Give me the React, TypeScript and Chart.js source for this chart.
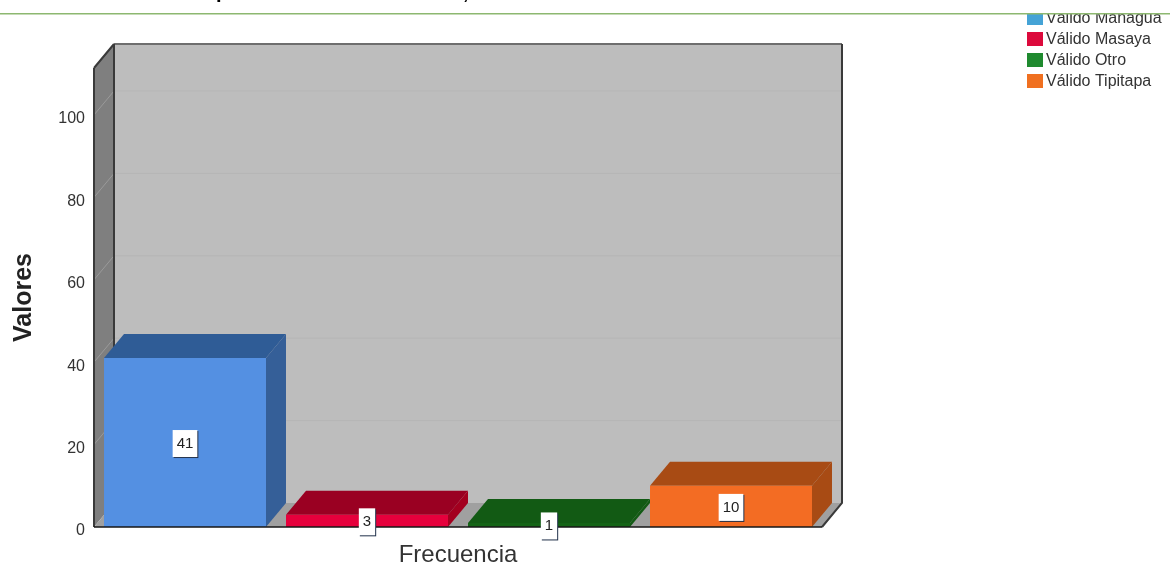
import React, { useEffect, useRef } from "react";
import { Chart, registerables } from "chart.js";

Chart.register(...registerables);

const categories = ["Frecuencia"];
const seriesNames = ["Válido Managua", "Válido Masaya", "Válido Otro", "Válido Tipitapa"];
const seriesValues = [41, 3, 1, 10];
const frontColors = ["#5490e2", "#e6003c", "#146416", "#f36c23"];
const topColors = ["#2f5c96", "#9a0022", "#125a14", "#a84b14"];
const sideColors = ["#355f98", "#a3001f", "#125a14", "#a84b14"];
const legendColors = ["#45a3d6", "#dc0a3c", "#1f8a2f", "#f07020"];
const tickStep = 20;
const axisMax = 111.4;

const FONT = '"Liberation Sans", Arial, sans-serif';
const DX = 20;
const DY = 24;

function poly(ctx: CanvasRenderingContext2D, pts: number[][], fill?: string, stroke?: string, lw = 1) {
  ctx.beginPath();
  pts.forEach(([x, y], i) => (i ? ctx.lineTo(x, y) : ctx.moveTo(x, y)));
  ctx.closePath();
  if (fill) {
    ctx.fillStyle = fill;
    ctx.fill();
  }
  if (stroke) {
    ctx.strokeStyle = stroke;
    ctx.lineWidth = lw;
    ctx.stroke();
  }
}

// Box walls, floor and the extruded faces of each bar.
const depthPlugin = {
  id: "depth",
  beforeDatasetsDraw(chart: any) {
    const { ctx, chartArea: a, scales } = chart;
    const { left, right, top, bottom } = a;
    ctx.save();
    poly(ctx, [[left + DX, top - DY], [right + DX, top - DY], [right + DX, bottom - DY], [left + DX, bottom - DY]], "#bdbdbd");
    poly(ctx, [[left, top], [left + DX, top - DY], [left + DX, bottom - DY], [left, bottom]], "#7f7f7f");
    poly(ctx, [[left, bottom], [left + DX, bottom - DY], [right + DX, bottom - DY], [right, bottom]], "#a0a0a0");

    for (const t of scales.y.ticks) {
      if (t.value === 0) continue;
      const y = scales.y.getPixelForValue(t.value);
      ctx.strokeStyle = "#b6b6b6";
      ctx.lineWidth = 1;
      ctx.beginPath();
      ctx.moveTo(left + DX, y - DY);
      ctx.lineTo(right + DX, y - DY);
      ctx.stroke();
      ctx.strokeStyle = "#9a9a9a";
      ctx.beginPath();
      ctx.moveTo(left, y);
      ctx.lineTo(left + DX, y - DY);
      ctx.stroke();
    }

    ctx.strokeStyle = "#6e6e6e";
    ctx.lineWidth = 2;
    ctx.beginPath();
    ctx.moveTo(left + DX, top - DY);
    ctx.lineTo(right + DX, top - DY);
    ctx.stroke();
    ctx.strokeStyle = "#3a3a3a";
    ctx.beginPath();
    ctx.moveTo(left + DX, top - DY);
    ctx.lineTo(left + DX, bottom - DY);
    ctx.moveTo(left, top);
    ctx.lineTo(left + DX, top - DY);
    ctx.moveTo(left, top);
    ctx.lineTo(left, bottom);
    ctx.moveTo(right + DX, top - DY);
    ctx.lineTo(right + DX, bottom - DY);
    ctx.lineTo(right, bottom);
    ctx.stroke();

    chart.data.datasets.forEach((_: any, i: number) => {
      const bar = chart.getDatasetMeta(i).data[0];
      const x0 = bar.x - bar.width / 2;
      const x1 = bar.x + bar.width / 2;
      poly(ctx, [[x0, bar.y], [x0 + DX, bar.y - DY], [x1 + DX, bar.y - DY], [x1, bar.y]], topColors[i]);
      poly(ctx, [[x1, bar.y], [x1 + DX, bar.y - DY], [x1 + DX, bar.base - DY], [x1, bar.base]], sideColors[i]);
    });
    ctx.restore();
  },
  afterDatasetsDraw(chart: any) {
    const { ctx, chartArea: a } = chart;
    ctx.save();
    ctx.strokeStyle = "#161616";
    ctx.lineWidth = 1.5;
    ctx.beginPath();
    ctx.moveTo(a.left, a.bottom);
    ctx.lineTo(a.right, a.bottom);
    ctx.stroke();

    // Value tags centred on each bar.
    ctx.font = `15px ${FONT}`;
    ctx.textAlign = "center";
    ctx.textBaseline = "middle";
    chart.data.datasets.forEach((ds: any, i: number) => {
      const bar = chart.getDatasetMeta(i).data[0];
      const text = String(ds.data[0]);
      const w = ctx.measureText(text).width + 8;
      const h = 27;
      const cy = (bar.y + bar.base) / 2 + 1;
      ctx.fillStyle = "#20304a";
      ctx.fillRect(bar.x - w / 2 + 1, cy - h / 2 + 1, w, h);
      ctx.fillStyle = "#ffffff";
      ctx.fillRect(bar.x - w / 2, cy - h / 2, w, h);
      ctx.fillStyle = "#222222";
      ctx.fillText(text, bar.x, cy);
    });
    ctx.restore();
  },
  afterDraw(chart: any) {
    const { ctx, width } = chart;
    ctx.save();
    // Series key in the upper right corner.
    ctx.font = `16px ${FONT}`;
    ctx.textAlign = "left";
    ctx.textBaseline = "middle";
    chart.data.datasets.forEach((ds: any, i: number) => {
      const y = 18 + i * 21;
      ctx.fillStyle = legendColors[i];
      ctx.fillRect(1027, y - 7, 16, 14);
      ctx.fillStyle = "#333333";
      ctx.fillText(ds.label, 1046, y + 1);
    });

    // Rule across the top, with the heading above it cut off by the page edge.
    ctx.fillStyle = "#ffffff";
    ctx.fillRect(0, 0, width, 13);
    ctx.fillStyle = "#8db870";
    ctx.fillRect(0, 13, width, 1.5);
    ctx.font = `bold 20px ${FONT}`;
    ctx.textBaseline = "alphabetic";
    ctx.fillStyle = "#000000";
    ctx.fillText("p", 216, -2);
    ctx.fillText(",", 463, -1);
    ctx.restore();
  },
};

export default function App() {
  const ref = useRef<HTMLCanvasElement>(null);

  useEffect(() => {
    const chart = new Chart(ref.current!, {
      type: "bar",
      data: {
        labels: categories,
        datasets: seriesNames.map((label, i) => ({
          label,
          data: [seriesValues[i]],
          backgroundColor: frontColors[i],
          borderWidth: 0,
          barPercentage: 0.89,
          categoryPercentage: 1,
        })),
      },
      options: {
        responsive: false,
        animation: false,
        layout: { padding: { left: 0, top: 68, right: 348, bottom: 0 } },
        plugins: { legend: { display: false }, tooltip: { enabled: false } },
        scales: {
          x: {
            grid: { display: false, drawTicks: false },
            border: { display: false },
            ticks: { color: "#333333", padding: 14, font: { family: FONT, size: 24 } },
            afterFit: (s: any) => {
              s.height = 36;
            },
          },
          y: {
            min: 0,
            max: axisMax,
            grid: { display: false, drawTicks: false },
            border: { display: false },
            afterBuildTicks: (s: any) => {
              s.ticks = s.ticks.filter((t: any) => t.value % tickStep === 0);
            },
            ticks: { stepSize: tickStep, color: "#333333", padding: 9, labelOffset: 4, font: { family: FONT, size: 16 } },
            title: {
              display: true,
              text: "Valores",
              color: "#222222",
              padding: { top: 9, bottom: 0 },
              font: { family: FONT, size: 25, weight: "bold" },
            },
            afterFit: (s: any) => {
              s.width = 94;
            },
          },
        },
      },
      plugins: [depthPlugin],
    } as any);
    return () => chart.destroy();
  }, []);

  return (
    <div style={{ position: "absolute", left: 0, top: 0, width: 1170, height: 563, background: "#ffffff" }}>
      <canvas ref={ref} width={1170} height={563} style={{ display: "block" }} />
    </div>
  );
}
